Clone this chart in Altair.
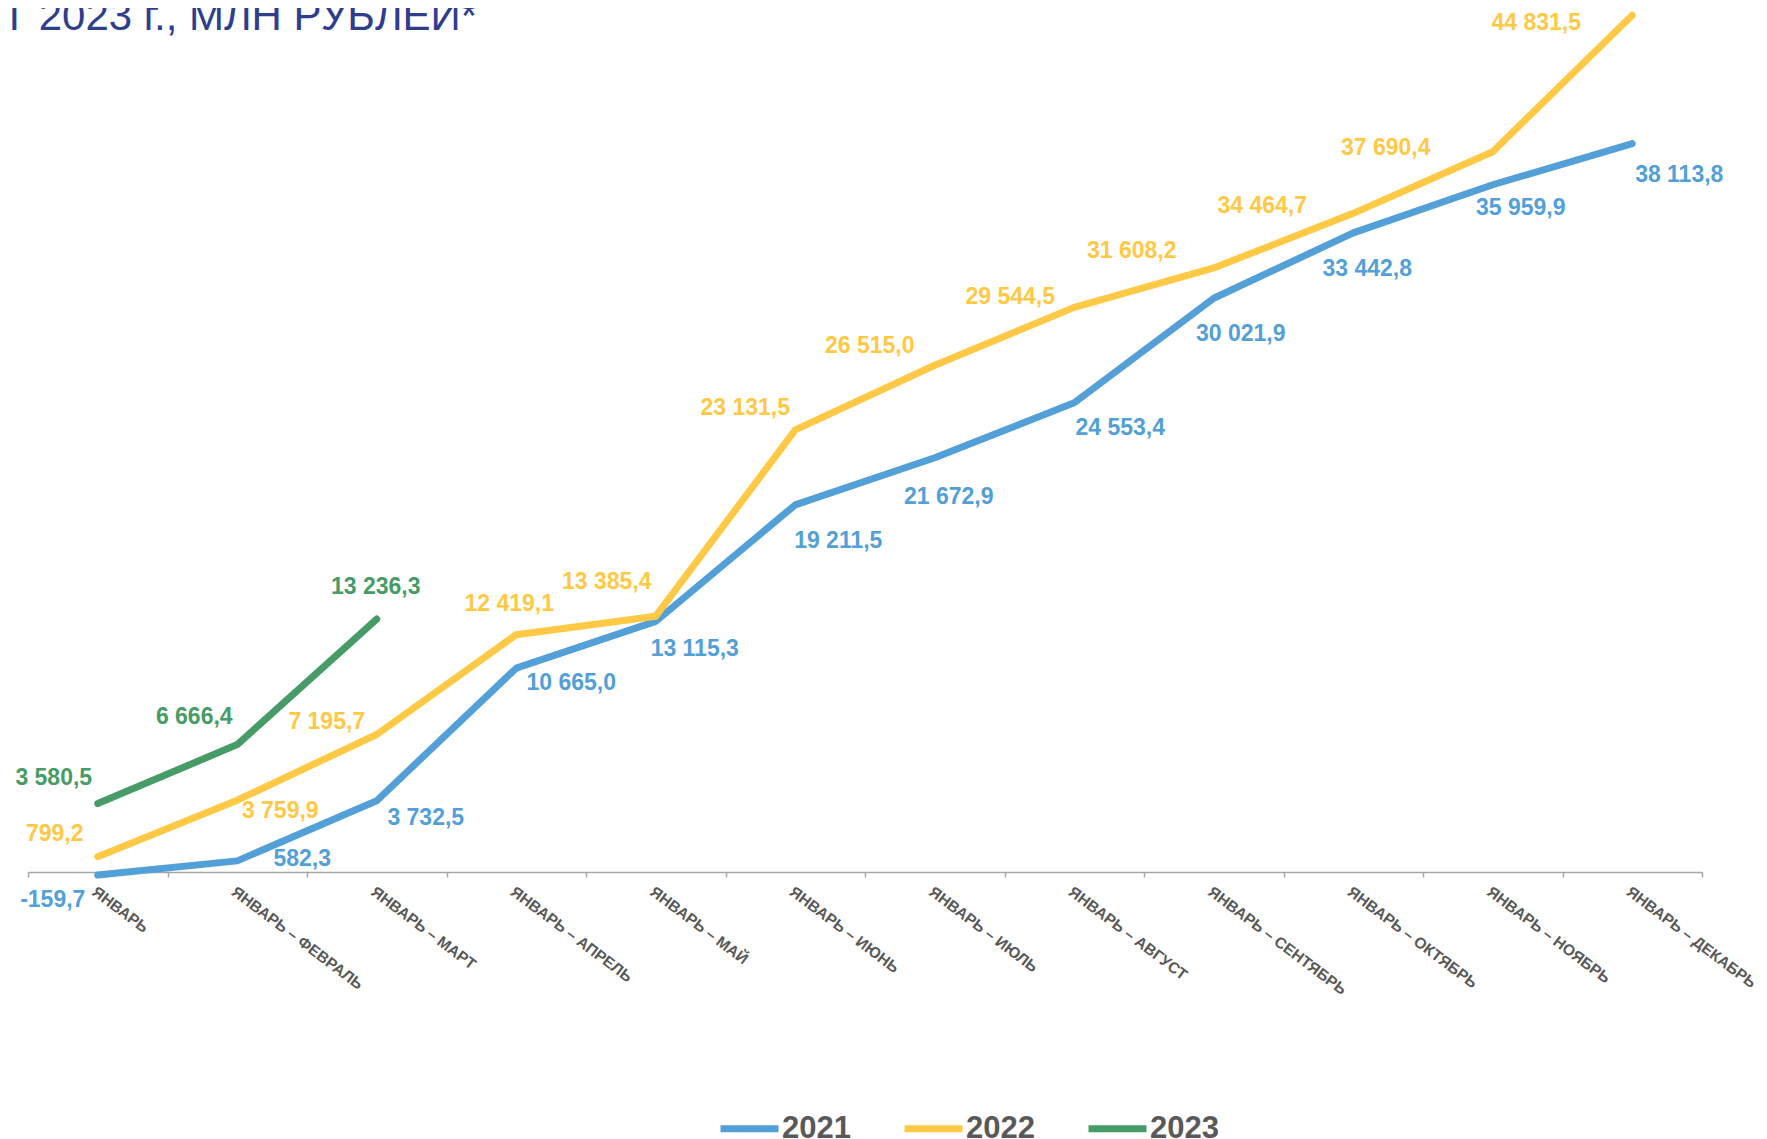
import altair as alt
import pandas as pd

# ---------------- data ----------------
periods = [
    "ЯНВАРЬ",
    "ЯНВАРЬ – ФЕВРАЛЬ",
    "ЯНВАРЬ – МАРТ",
    "ЯНВАРЬ – АПРЕЛЬ",
    "ЯНВАРЬ – МАЙ",
    "ЯНВАРЬ – ИЮНЬ",
    "ЯНВАРЬ – ИЮЛЬ",
    "ЯНВАРЬ – АВГУСТ",
    "ЯНВАРЬ – СЕНТЯБРЬ",
    "ЯНВАРЬ – ОКТЯБРЬ",
    "ЯНВАРЬ – НОЯБРЬ",
    "ЯНВАРЬ – ДЕКАБРЬ",
]
series_names = ["2021", "2022", "2023"]
values_2021 = [-159.7, 582.3, 3732.5, 10665.0, 13115.3, 19211.5, 21672.9,
               24553.4, 30021.9, 33442.8, 35959.9, 38113.8]
values_2022 = [799.2, 3759.9, 7195.7, 12419.1, 13385.4, 23131.5, 26515.0,
               29544.5, 31608.2, 34464.7, 37690.4, 44831.5]
values_2023 = [3580.5, 6666.4, 13236.3]
title_text = "МАРТ 2023 г., МЛН РУБЛЕЙ*"

# ---------------- styling ----------------
colors = ["#539fd7", "#ffc845", "#469b66"]
FONT = "Liberation Sans"

# label nudges (pixels, relative to each point)
nudge_2021 = [(-45, 25), (65, -2), (49, 17), (55, 15), (39, 28), (43, 36),
              (14, 39), (46, 25), (27, 36), (14, 36), (28, 23), (47, 31)]
nudge_2022 = [(-43, -23), (43, 11), (-50, -12), (-7, -31), (-49, -34), (-50, -22),
              (-65, -19), (-64, -10), (-82, -17), (-91, -7), (-107, -4), (-96, 8)]
nudge_2023 = [(-44, -26), (-43, -28), (-1, -32)]


def fmt(v):
    s = f"{abs(v):,.1f}".replace(",", " ").replace(".", ",")
    return ("-" if v < 0 else "") + s


rows = []
for name, vals, nudges in [("2021", values_2021, nudge_2021),
                           ("2022", values_2022, nudge_2022),
                           ("2023", values_2023, nudge_2023)]:
    for i, v in enumerate(vals):
        rows.append({"period": periods[i], "series": name, "value": v,
                     "label": fmt(v), "ldx": nudges[i][0], "ldy": nudges[i][1]})
df = pd.DataFrame(rows)

x_enc = alt.X(
    "period:N",
    sort=periods,
    title=None,
    scale=alt.Scale(type="band", paddingInner=0, paddingOuter=0),
    axis=alt.Axis(
        domainColor="#a6a6a6", domainWidth=1.5,
        tickColor="#a6a6a6", tickWidth=1.5, tickSize=5, tickBand="extent",
        labelAngle=37, labelAlign="left", labelBaseline="top",
        labelPadding=7, labelFont=FONT, labelFontSize=15.5, labelFontWeight="bold",
        labelColor="#595959", labelOverlap=False, labelLimit=400,
        grid=False,
    ),
)
y_enc = alt.Y("value:Q", scale=alt.Scale(domain=[0, 45000], nice=False, zero=False),
              axis=None)
color_scale = alt.Scale(domain=series_names, range=colors)

lines = alt.Chart(df).mark_line(
    strokeWidth=7, strokeCap="round", strokeJoin="round"
).encode(
    x=x_enc,
    y=y_enc,
    color=alt.Color(
        "series:N", scale=color_scale,
        legend=alt.Legend(
            title=None, orient="none", legendX=689, legendY=1084,
            direction="horizontal", symbolType="stroke", symbolSize=3364,
            symbolStrokeWidth=7, labelFont=FONT, labelFontSize=31,
            labelFontWeight="bold", labelColor="#595959", labelOffset=0,
            columnPadding=39, padding=0,
        ),
    ),
)

labels = alt.Chart(df).mark_text(
    font=FONT, fontSize=23, fontWeight="bold", align="center", baseline="middle",
    dx=alt.ExprRef(expr="datum.ldx"), dy=alt.ExprRef(expr="datum.ldy"),
).encode(
    x=x_enc,
    y=y_enc,
    text="label:N",
    color=alt.Color("series:N", scale=color_scale, legend=None),
)

chart = alt.layer(lines, labels).properties(
    width=1674,
    height=860,
    autosize=alt.AutoSizeParams(type="none"),
    padding={"left": 20, "top": 4, "right": 57, "bottom": 267},
    title=alt.TitleParams(
        text=title_text, anchor="end", frame="group", orient="top",
        font=FONT, fontSize=42, fontWeight="normal", color="#2f3e8c",
        offset=0, dx=-1225, dy=27,
    ),
).configure_view(stroke=None)

chart.save("out.html", embed_options={"renderer": "svg", "actions": False})
